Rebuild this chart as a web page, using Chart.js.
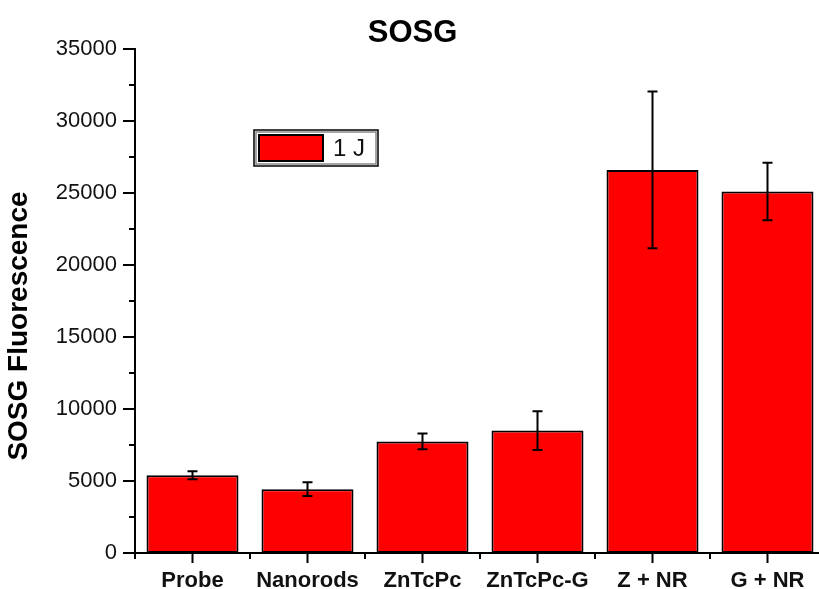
<!DOCTYPE html>
<html>
<head>
<meta charset="utf-8">
<script src="https://cdn.jsdelivr.net/npm/chart.js@4.4.0/dist/chart.umd.min.js"></script>
<style>
  html, body { margin: 0; padding: 0; overflow: hidden; background: #fff; }
  canvas { display: block; }
</style>
</head>
<body>
<canvas id="myBarChart" width="830" height="589"></canvas>
<script>
var categories = ['Probe', 'Nanorods', 'ZnTcPc', 'ZnTcPc-G', 'Z + NR', 'G + NR'];
var fluorescence = [5400, 4430, 7750, 8500, 26600, 25100];
var errors = [280, 480, 550, 1350, 5440, 2000];
var seriesLabel = '1 J';
var yMax = 35000;
var yStep = 2500;
var yLabelStep = 5000;

var FONT = "'Liberation Sans', Arial, sans-serif";

// barre d'errore disegnate sopra le barre
var errorBars = {
  id: 'errorBars',
  afterDatasetsDraw: function (chart) {
    var ctx = chart.ctx;
    var y = chart.scales.y;
    var meta = chart.getDatasetMeta(0);
    ctx.save();
    ctx.strokeStyle = '#000';
    ctx.lineWidth = 2;
    for (var i = 0; i < meta.data.length; i++) {
      var x = meta.data[i].x;
      var top = y.getPixelForValue(fluorescence[i] + errors[i]);
      var bottom = y.getPixelForValue(fluorescence[i] - errors[i]);
      ctx.beginPath();
      ctx.moveTo(x, top); ctx.lineTo(x, bottom);
      ctx.moveTo(x - 5, top); ctx.lineTo(x + 5, top);
      ctx.moveTo(x - 5, bottom); ctx.lineTo(x + 5, bottom);
      ctx.stroke();
    }
    ctx.restore();
  }
};

// tacche degli assi, legenda e titolo asse y
var decorations = {
  id: 'decorations',
  afterDraw: function (chart) {
    var ctx = chart.ctx;
    var area = chart.chartArea;
    var y = chart.scales.y;
    var x = chart.scales.x;
    ctx.save();
    ctx.strokeStyle = '#000';
    ctx.lineWidth = 2;
    ctx.beginPath();
    y.ticks.forEach(function (t) {
      var py = y.getPixelForValue(t.value);
      var len = (t.value % yLabelStep === 0) ? 12 : 6;
      ctx.moveTo(area.left - len, py); ctx.lineTo(area.left, py);
    });
    var step = (area.right - area.left) / categories.length;
    for (var i = 0; i < categories.length; i++) {
      var cx = x.getPixelForValue(i);
      ctx.moveTo(cx, area.bottom); ctx.lineTo(cx, area.bottom + 10);
      var bx = area.left + step * i;
      ctx.moveTo(bx, area.bottom); ctx.lineTo(bx, area.bottom + 6);
    }
    ctx.stroke();

    // legenda
    var lx = 254, ly = 130;
    ctx.lineWidth = 1.5;
    ctx.strokeStyle = '#000';
    ctx.strokeRect(lx, ly, 124, 36);
    ctx.strokeStyle = '#888';
    ctx.strokeRect(lx + 2, ly + 2, 120, 32);
    ctx.fillStyle = chart.data.datasets[0].backgroundColor;
    ctx.fillRect(lx + 5, ly + 5, 64, 26);
    ctx.strokeStyle = '#000';
    ctx.lineWidth = 2;
    ctx.strokeRect(lx + 5, ly + 5, 64, 26);
    ctx.fillStyle = '#111';
    ctx.font = '24px ' + FONT;
    ctx.textBaseline = 'middle';
    ctx.textAlign = 'left';
    ctx.fillText(chart.data.datasets[0].label, lx + 79, ly + 19);

    // titolo asse y
    ctx.translate(19, 326);
    ctx.rotate(-Math.PI / 2);
    ctx.font = 'bold 28px ' + FONT;
    ctx.textAlign = 'center';
    ctx.fillStyle = '#000';
    ctx.fillText('SOSG Fluorescence', 0, 0);
    ctx.restore();
  }
};

var myBarChart = new Chart(document.getElementById('myBarChart'), {
  type: 'bar',
  data: {
    labels: categories,
    datasets: [{
      label: seriesLabel,
      data: fluorescence,
      backgroundColor: '#ff0000',
      borderColor: '#000',
      borderWidth: 2,
      borderSkipped: false,
      barPercentage: 0.8,
      categoryPercentage: 1
    }]
  },
  options: {
    responsive: false,
    animation: false,
    layout: { padding: { left: 0, right: 5, top: 0, bottom: 0 } },
    plugins: {
      legend: { display: false },
      tooltip: { enabled: false },
      title: {
        display: true,
        text: 'SOSG',
        color: '#000',
        font: { family: FONT, size: 31, weight: 'bold', lineHeight: 1 },
        padding: { top: 18, bottom: 0 }
      }
    },
    scales: {
      x: {
        grid: { display: false, drawTicks: false },
        border: { display: true, color: '#000', width: 2 },
        ticks: {
          color: '#111',
          padding: 15,
          font: { family: FONT, size: 22, weight: 'bold' }
        },
        afterFit: function (scale) { scale.height = 36; }
      },
      y: {
        min: 0,
        max: yMax,
        grid: { display: false, drawTicks: false },
        border: { display: true, color: '#000', width: 2 },
        ticks: {
          stepSize: yStep,
          autoSkip: false,
          color: '#111',
          padding: 18,
          font: { family: FONT, size: 22 },
          callback: function (value) {
            return value % yLabelStep === 0 ? value : '';
          }
        },
        afterFit: function (scale) { scale.width = 135; }
      }
    }
  },
  plugins: [errorBars, decorations]
});
</script>
</body>
</html>
